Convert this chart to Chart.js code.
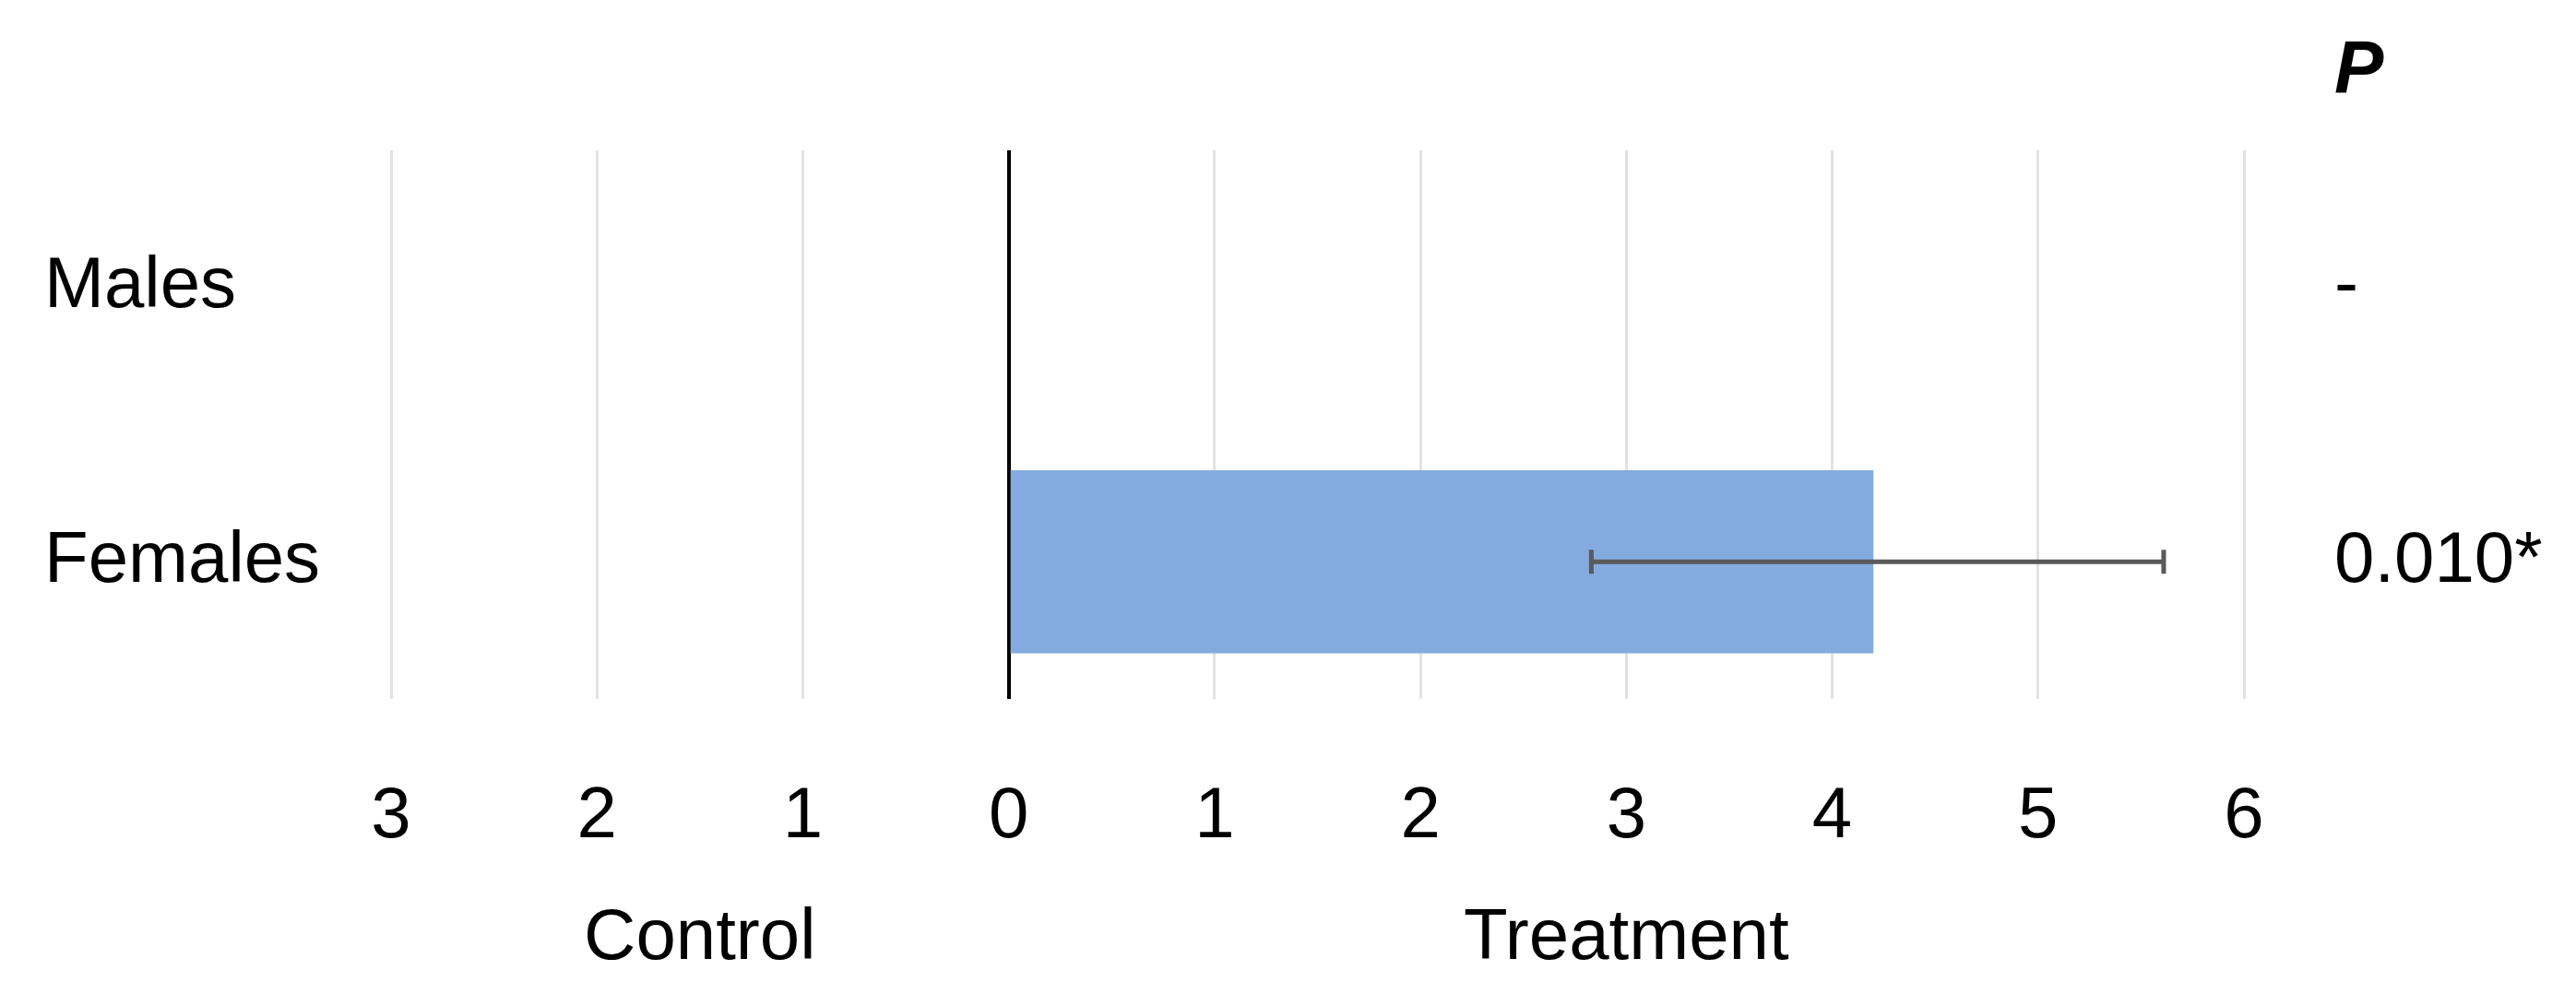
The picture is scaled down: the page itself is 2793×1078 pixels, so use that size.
<!DOCTYPE html>
<html>
<head>
<meta charset="utf-8">
<script src="https://cdn.jsdelivr.net/npm/chart.js@4.4.0/dist/chart.umd.min.js"></script>
<style>
  body { margin: 0; background: #fff; }
  #wrap { width: 2793px; height: 1078px; }
</style>
</head>
<body>
<div id="wrap"><canvas id="sexChart"></canvas></div>
<script>
// data
const categories = ['Males', 'Females'];
const treatment = [0, 4.2];
const errLow = [null, 2.83];
const errHigh = [null, 5.61];
const pHeader = 'P';
const pValues = ['-', '0.010*'];
const sideNames = ['Control', 'Treatment'];
const xMin = -3;
const xMax = 6;

const font = '"Liberation Sans", Arial, sans-serif';

// error bars drawn through the scales
const errorBars = {
  id: 'errorBars',
  afterDatasetsDraw(chart) {
    const { ctx, scales } = chart;
    ctx.save();
    ctx.strokeStyle = '#5a5a5a';
    ctx.lineWidth = 5;
    errLow.forEach((lo, i) => {
      if (lo === null) return;
      const y = scales.y.getPixelForValue(i);
      const x1 = scales.x.getPixelForValue(lo);
      const x2 = scales.x.getPixelForValue(errHigh[i]);
      ctx.beginPath();
      ctx.moveTo(x1, y); ctx.lineTo(x2, y);
      ctx.moveTo(x1, y - 13); ctx.lineTo(x1, y + 13);
      ctx.moveTo(x2, y - 13); ctx.lineTo(x2, y + 13);
      ctx.stroke();
    });
    ctx.restore();
  }
};

// "P" header above the p-value column
const pHead = {
  id: 'pHead',
  afterDraw(chart) {
    const { ctx, chartArea } = chart;
    const s = chart.scales.y2;
    ctx.save();
    ctx.fillStyle = '#000';
    ctx.font = 'italic bold 80px ' + font;
    ctx.textAlign = 'left';
    ctx.textBaseline = 'middle';
    ctx.fillText(pHeader, s.left + s.options.ticks.padding, chartArea.top - 85);
    ctx.restore();
  }
};

new Chart(document.getElementById('sexChart'), {
  type: 'bar',
  data: {
    labels: categories,
    datasets: [{
      data: treatment,
      backgroundColor: '#83abdf',
      borderWidth: 0,
      categoryPercentage: 1,
      barPercentage: 0.667,
      yAxisID: 'y'
    }]
  },
  options: {
    indexAxis: 'y',
    responsive: true,
    maintainAspectRatio: false,
    animation: false,
    layout: { padding: { left: 48, right: 0, top: 163, bottom: 0 } },
    plugins: {
      legend: { display: false },
      tooltip: { enabled: false },
      title: { display: false }
    },
    scales: {
      x: {
        type: 'linear',
        position: 'bottom',
        min: xMin,
        max: xMax,
        border: { display: false },
        grid: {
          drawTicks: false,
          lineWidth: (c) => (c.tick && c.tick.value === 0 ? 4 : 3),
          color: (c) => (c.tick && c.tick.value === 0 ? '#000' : '#e2e2e2')
        },
        ticks: {
          stepSize: 1,
          padding: 82,
          color: '#000',
          font: { family: font, size: 78 },
          callback: (v) => Math.abs(v)
        },
        afterFit: (s) => { s.height = 170; }
      },
      x2: {
        type: 'linear',
        position: 'bottom',
        min: xMin,
        max: xMax,
        border: { display: false },
        grid: { display: false, drawTicks: false },
        afterBuildTicks: (s) => {
          s.ticks = [{ value: xMin / 2 }, { value: xMax / 2 }];
        },
        ticks: {
          padding: 44,
          color: '#000',
          font: { family: font, size: 78 },
          callback: (v, i) => sideNames[i]
        },
        afterFit: (s) => { s.height = 150; }
      },
      y: {
        type: 'category',
        position: 'left',
        offset: true,
        border: { display: false },
        grid: { display: false, drawTicks: false },
        ticks: {
          crossAlign: 'far',
          color: '#000',
          font: { family: font, size: 78 }
        },
        afterFit: (s) => { s.width = 376; }
      },
      y2: {
        type: 'category',
        position: 'right',
        labels: pValues,
        offset: true,
        border: { display: false },
        grid: { display: false, drawTicks: false },
        ticks: {
          crossAlign: 'near',
          padding: 98,
          color: '#000',
          font: { family: font, size: 78 }
        },
        afterFit: (s) => { s.width = 360; }
      }
    }
  },
  plugins: [errorBars, pHead]
});
</script>
</body>
</html>
